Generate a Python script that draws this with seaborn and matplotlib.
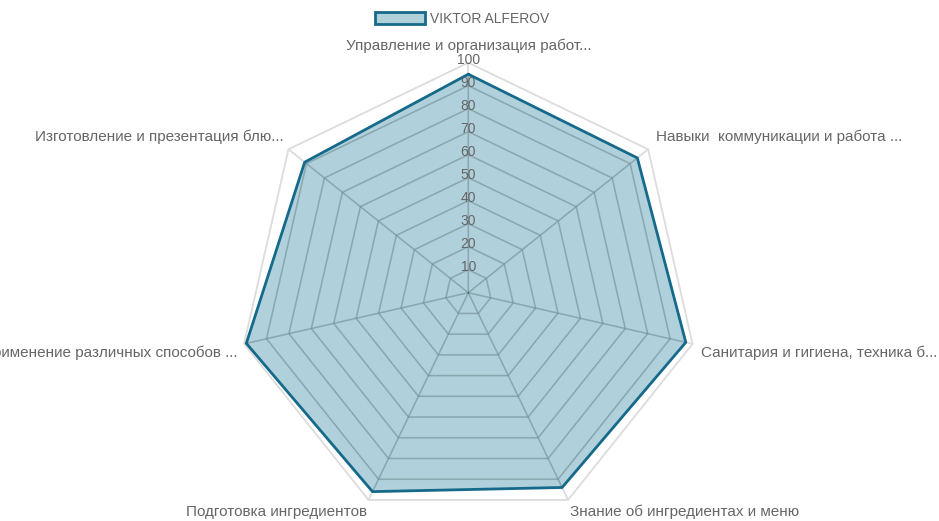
import numpy as np
import pandas as pd
import matplotlib
matplotlib.use("Agg")
import matplotlib.pyplot as plt
import seaborn as sns
from matplotlib.patches import Patch

categories = [
    "Управление и организация работ...",
    "Навыки  коммуникации и работа ...",
    "Санитария и гигиена, техника б...",
    "Знание об ингредиентах и меню",
    "Подготовка ингредиентов",
    "Применение различных способов ...",
    "Изготовление и презентация блю...",
]
scores = [95, 94, 97, 94, 96, 99, 91]
series_name = "VIKTOR ALFEROV"
ring_values = [10, 20, 30, 40, 50, 60, 70, 80, 90, 100]

LINE = "#15698a"
FILL = "#62a3b8"
TEXT = "#666666"

sns.set_theme(style="white")
plt.rcParams["font.family"] = ["Liberation Sans", "DejaVu Sans"]

n = len(categories)
angles = np.arange(n) * 2 * np.pi / n  # clockwise from top


def to_xy(theta, r):
    r = np.asarray(r, dtype=float)
    return r * np.sin(theta), r * np.cos(theta)


closed = np.append(angles, angles[0])
px, py = to_xy(closed, scores + scores[:1])
df = pd.DataFrame({"x": px, "y": py})

fig = plt.figure(figsize=(9.39, 5.21), dpi=100)
cx, cy, R = 468.3, 521 - 292.7, 230
ax = fig.add_axes([(cx - R) / 939, (cy - R) / 521, 2 * R / 939, 2 * R / 521])
ax.set_xlim(-100, 100)
ax.set_ylim(-100, 100)
ax.set_aspect("equal")
ax.axis("off")

# polygon grid + spokes (light, behind the fill)
for r in ring_values:
    gx, gy = to_xy(closed, [r] * (n + 1))
    ax.plot(gx, gy, color="#dcdcdc", lw=1.3, zorder=1, clip_on=False)
for a in angles:
    sx, sy = to_xy(np.array([a, a]), [0, 100])
    ax.plot(sx, sy, color="#dcdcdc", lw=1.3, zorder=1, clip_on=False)

# data polygon
area = ax.fill(df["x"], df["y"], color=FILL, alpha=0.5, lw=0, zorder=2)[0]

# grid lines seen through the fill
for r in ring_values:
    gx, gy = to_xy(closed, [r] * (n + 1))
    ln, = ax.plot(gx, gy, color="#000000", alpha=0.12, lw=1, zorder=2.5)
    ln.set_clip_path(area)
for a in angles:
    sx, sy = to_xy(np.array([a, a]), [0, 100])
    ln, = ax.plot(sx, sy, color="#000000", alpha=0.12, lw=1, zorder=2.5)
    ln.set_clip_path(area)

sns.lineplot(data=df, x="x", y="y", sort=False, estimator=None,
             color=LINE, lw=2, ax=ax, zorder=3, legend=False)
ax.lines[-1].set_clip_on(False)

# tick labels along the top spoke
for r in ring_values:
    ax.annotate(str(r), xy=(0, r), xytext=(0, 3), textcoords="offset pixels",
                ha="center", va="center", fontsize=10, color=TEXT, zorder=4,
                annotation_clip=False)

# category labels
offsets = [(0, 17, "center"), (8, 13, "left"), (8, -9, "left"), (2, -12, "left"),
           (-2, -12, "right"), (-7, -9, "right"), (-5, 13, "right")]
for a, lab, (dx, dy, ha) in zip(angles, categories, offsets):
    lx, ly = to_xy(a, 100)
    ax.annotate(lab, xy=(float(lx), float(ly)), xytext=(dx, dy),
                textcoords="offset pixels", ha=ha, va="center", fontsize=11,
                color=TEXT, annotation_clip=False)

handle = Patch(facecolor="#b0d0da", edgecolor=LINE, linewidth=2)
fig.legend([handle], [series_name], loc="center",
           bbox_to_anchor=(462 / 939, 1 - 19 / 521), frameon=False,
           fontsize=10, labelcolor=TEXT, handlelength=3.6, handleheight=0.95,
           handletextpad=0.4)

fig.savefig("out.png", dpi=100)
